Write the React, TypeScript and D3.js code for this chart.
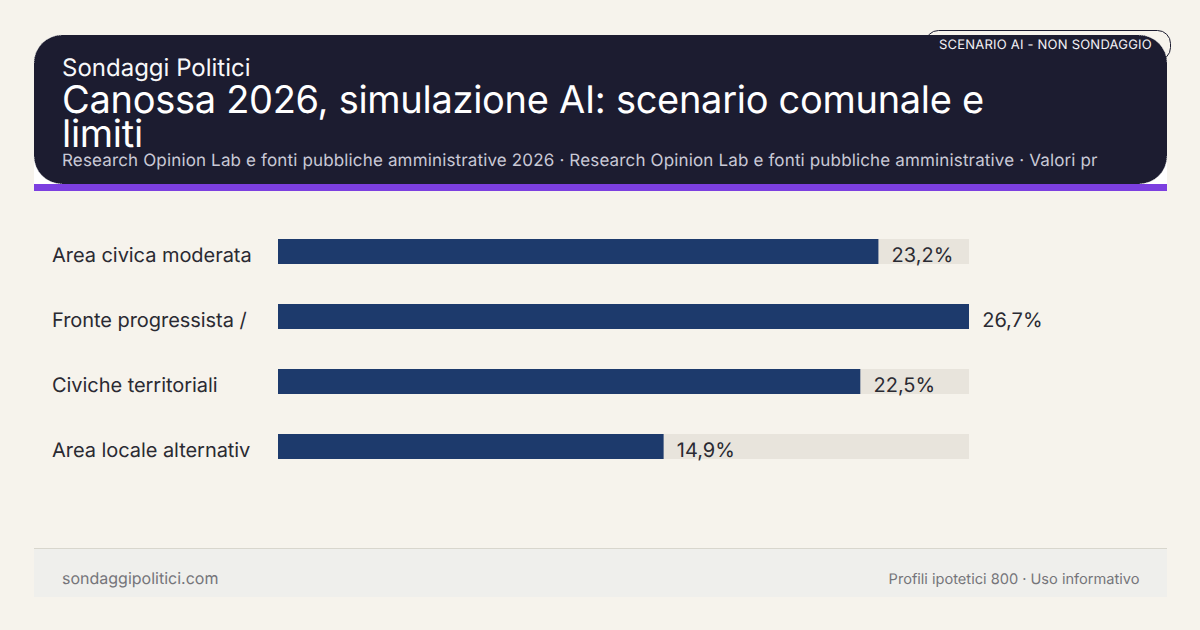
import React from "react";
import * as d3 from "d3";

const categories = ["Area civica moderata", "Fronte progressista /", "Civiche territoriali", "Area locale alternativ"];
const values = [23.2, 26.7, 22.5, 14.9];
const valueLabels = ["23,2%", "26,7%", "22,5%", "14,9%"];
const kicker = "Sondaggi Politici";
const titleLines = ["Canossa 2026, simulazione AI: scenario comunale e", "limiti"];
const subtitle = "Research Opinion Lab e fonti pubbliche amministrative 2026 · Research Opinion Lab e fonti pubbliche amministrative · Valori pr";
const badge = "SCENARIO AI - NON SONDAGGIO";
const footerLeft = "sondaggipolitici.com";
const footerRight = "Profili ipotetici 800 · Uso informativo";

const FONT = "Inter, sans-serif";

function cornerArcs(x0: number, y0: number, x1: number, y1: number, r: number) {
  const p = d3.path();
  p.moveTo(x0, y0 + r);
  p.arcTo(x0, y0, x0 + r, y0, r);
  p.moveTo(x1 - r, y0);
  p.arcTo(x1, y0, x1, y0 + r, r);
  p.moveTo(x1, y1 - r);
  p.arcTo(x1, y1, x1 - r, y1, r);
  p.moveTo(x0 + r, y1);
  p.arcTo(x0, y1, x0, y1 - r, r);
  return p.toString();
}

export default function App() {
  const x = d3.scaleLinear().domain([0, 26.7]).range([278, 969]);
  const y = d3.scaleBand<string>().domain(categories).range([239, 459]).paddingInner(40 / 65).paddingOuter(0);
  return (
    <svg width={1200} height={630} viewBox="0 0 1200 630" style={{ position: "fixed", left: 0, top: 0 }} fontFamily={FONT} textRendering="geometricPrecision">
      <rect width={1200} height={630} fill="#f6f3ec" />
      {/* header */}
      <rect x={34} y={150} width={1133} height={34} fill="#ffffff" />
      <rect x={34} y={35} width={1133} height={149} rx={28} fill="#1c1c30" />
      <path d={cornerArcs(34, 35, 1167, 184, 28)} fill="none" stroke="#d8d8d8" strokeWidth={0.75} strokeDasharray="1 1" />
      <rect x={34} y={184} width={1133} height={7} fill="#7c3fe0" />
      {/* badge */}
      <rect x={925.5} y={30.5} width={245} height={30} rx={13} fill="none" stroke="#1c1c30" strokeWidth={1} />
      <text x={1152} y={49} textAnchor="end" fontSize={13} letterSpacing={0.22} fill="#f3f1f6">{badge}</text>
      <text x={62} y={75.5} fontSize={24} fill="#f8f8fa">{kicker}</text>
      {titleLines.map((t, i) => (
        <text key={t} x={62} y={113 + i * 34} fontSize={38} letterSpacing={-0.29} fill="#ffffff">{t}</text>
      ))}
      <text x={62} y={166} fontSize={17} letterSpacing={0.15} fill="#c9c9d6">{subtitle}</text>
      {/* bars */}
      {categories.map((c, i) => {
        const by = y(c) as number;
        const h = y.bandwidth();
        return (
          <g key={c}>
            <rect x={x(0)} y={by} width={x(26.7) - x(0)} height={h} fill="#e8e4dc" />
            <rect x={x(0)} y={by} width={x(values[i]) - x(0)} height={h} fill="#1d3a6c" />
            <text x={52} y={by + 23} fontSize={20} letterSpacing={-0.05} fill="#2a2a32">{c}</text>
            <text x={x(values[i]) + 13.2} y={by + 23} fontSize={20} fill="#2a2a32">{valueLabels[i]}</text>
          </g>
        );
      })}
      {/* footer */}
      <rect x={34} y={548} width={1133} height={49} fill="#efefec" />
      <rect x={34} y={548} width={1133} height={1} fill="#d8d6cd" />
      <text x={62} y={584} fontSize={16} fill="#75757a">{footerLeft}</text>
      <text x={1139.5} y={584} textAnchor="end" fontSize={14.6} fill="#75757a">{footerRight}</text>
    </svg>
  );
}
